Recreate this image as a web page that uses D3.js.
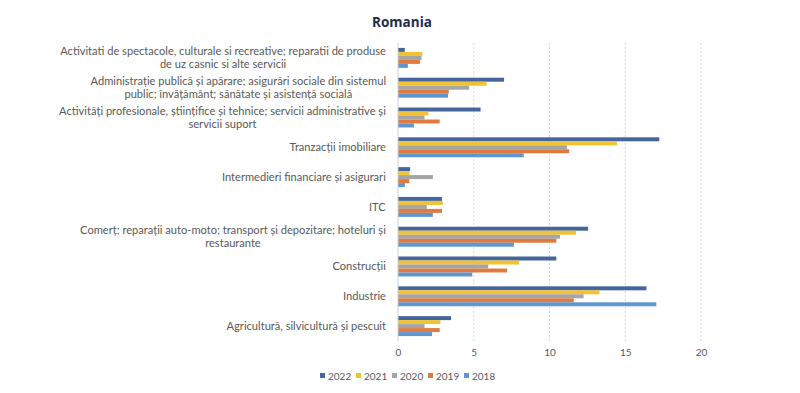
<!DOCTYPE html>
<html>
<head>
<meta charset="utf-8">
<script src="https://cdn.jsdelivr.net/npm/d3@7"></script>
<style>
  html, body { margin: 0; padding: 0; background: #ffffff; }
  svg { display: block; }
</style>
</head>
<body>
<svg id="chart" width="800" height="393"></svg>
<script>
// ---- data (top to bottom) ----
const categories = [
  "Activitati de spectacole, culturale si recreative; reparatii de produse\nde uz casnic si alte servicii",
  "Administrație publică și apărare; asigurări sociale din sistemul\npublic; învățământ; sănătate și asistență socială",
  "Activități profesionale, științifice și tehnice; servicii administrative și\nservicii suport",
  "Tranzacții imobiliare",
  "Intermedieri financiare și asigurari",
  "ITC",
  "Comerț; reparații auto-moto; transport și depozitare; hoteluri și\nrestaurante",
  "Construcții",
  "Industrie",
  "Agricultură, silvicultură și pescuit"
];
const years = ["2022", "2021", "2020", "2019", "2018"];
const values2022 = [0.45, 7.0, 5.45, 17.25, 0.8, 2.9, 12.55, 10.45, 16.4, 3.5];
const values2021 = [1.6, 5.85, 2.0, 14.45, 0.75, 2.95, 11.75, 8.0, 13.3, 2.8];
const values2020 = [1.55, 4.7, 1.75, 11.15, 2.3, 1.9, 10.7, 5.95, 12.25, 1.75];
const values2019 = [1.45, 3.35, 2.75, 11.3, 0.75, 2.9, 10.45, 7.2, 11.6, 2.75];
const values2018 = [0.65, 3.3, 1.05, 8.3, 0.45, 2.3, 7.65, 4.9, 17.05, 2.25];
const xTicks = [0, 5, 10, 15, 20];
const title = "Romania";

const seriesValues = [values2022, values2021, values2020, values2019, values2018];
const colors = ["#44669c", "#f1c232", "#a5a5a5", "#e07b3f", "#5f96d0"];

const svg = d3.select("#chart");
const x = d3.scaleLinear().domain([0, 20]).range([398, 701]);
const y = d3.scaleBand().domain(categories).range([43, 341]).paddingInner(0.33).paddingOuter(0.165);
const yInner = d3.scaleBand().domain(years).range([0, y.bandwidth()]);

// title
svg.append("text")
  .attr("x", 402).attr("y", 27)
  .attr("text-anchor", "middle")
  .attr("font-family", "'Open Sans', sans-serif")
  .attr("font-weight", "bold")
  .attr("font-size", 13.5)
  .attr("fill", "#1f2b4d")
  .text(title);

// gridlines
svg.append("g").selectAll("line")
  .data(xTicks.filter(d => d > 0))
  .join("line")
  .attr("x1", d => x(d)).attr("x2", d => x(d))
  .attr("y1", 43).attr("y2", 341)
  .attr("stroke", "#d9d9d9")
  .attr("stroke-width", 1)
  .attr("stroke-dasharray", "2,2");

// bars
const rows = [];
categories.forEach((c, i) => {
  years.forEach((yr, j) => rows.push({ cat: c, year: yr, value: seriesValues[j][i], color: colors[j] }));
});
svg.append("g").selectAll("rect")
  .data(rows)
  .join("rect")
  .attr("x", x(0))
  .attr("y", d => y(d.cat) + yInner(d.year))
  .attr("width", d => x(d.value) - x(0))
  .attr("height", yInner.bandwidth())
  .attr("fill", d => d.color);

// vertical axis line
svg.append("line")
  .attr("x1", x(0)).attr("x2", x(0))
  .attr("y1", 43).attr("y2", 341)
  .attr("stroke", "#d0d0d0");

// x axis tick labels
const xAxis = d3.axisBottom(x).tickValues(xTicks).tickSize(0).tickPadding(0);
const gx = svg.append("g").attr("transform", "translate(0,349)").call(xAxis);
gx.select(".domain").remove();
gx.selectAll("text")
  .attr("font-family", "Lato, sans-serif")
  .attr("font-size", 10)
  .attr("fill", "#595959");

// category labels
const labelFont = "Lato, sans-serif";
const labelSize = 11.1;
const gl = svg.append("g");
categories.forEach(c => {
  const lines = c.split("\n");
  const cy = y(c) + y.bandwidth() / 2;
  const t = gl.append("text")
    .attr("font-family", labelFont)
    .attr("font-size", labelSize)
    .attr("fill", "#595959")
    .attr("text-anchor", "middle");
  const lh = 13.3;
  lines.forEach((ln, k) => {
    t.append("tspan").attr("x", 0)
      .attr("y", cy + (k - (lines.length - 1) / 2) * lh + 3.8)
      .text(ln);
  });
  const w = t.node().getBBox().width;
  t.attr("transform", `translate(${386 - w / 2},0)`);
});

// legend
const legendX = [320, 356, 392, 428, 464];
const lg = svg.append("g");
years.forEach((yr, j) => {
  lg.append("rect").attr("x", legendX[j]).attr("y", 373).attr("width", 5).attr("height", 5).attr("fill", colors[j]);
  lg.append("text").attr("x", legendX[j] + 8).attr("y", 379.5)
    .attr("font-family", "Lato, sans-serif").attr("font-size", 10)
    .attr("fill", "#595959").text(yr);
});
</script>
</body>
</html>
